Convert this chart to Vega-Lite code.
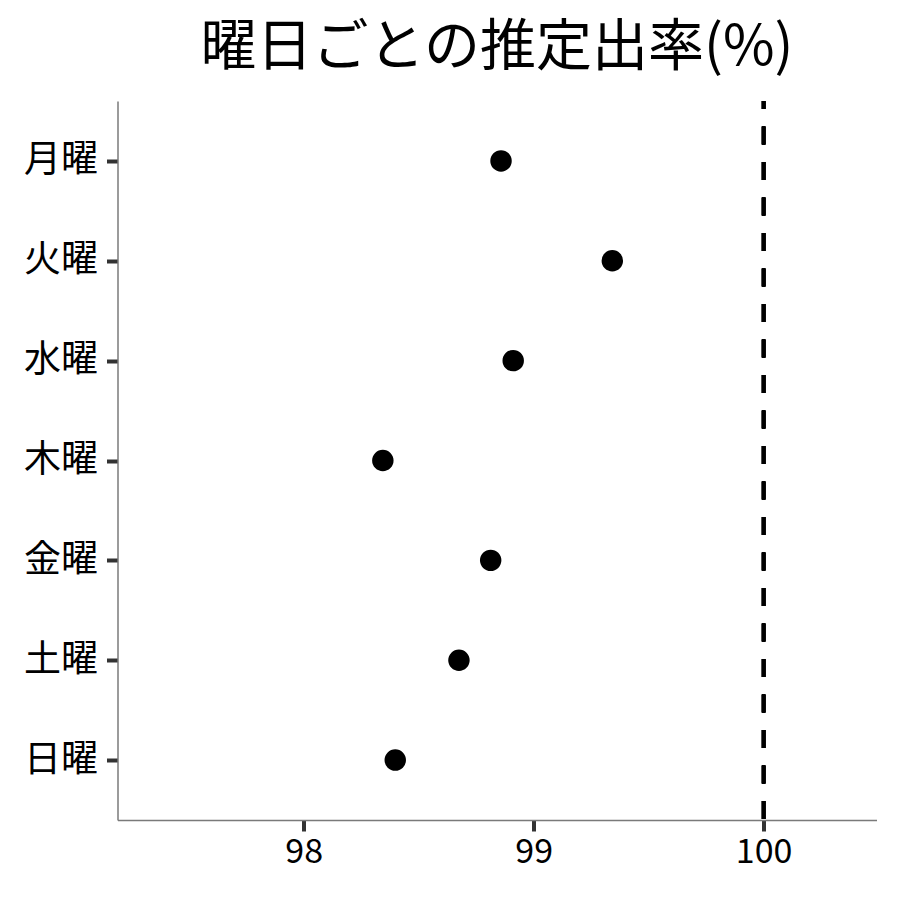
{
  "$schema": "https://vega.github.io/schema/vega-lite/v6.json",
  "autosize": {"type": "none"},
  "padding": {"left": 117.5, "top": 101, "right": 23.5, "bottom": 80},
  "width": 759,
  "height": 719,
  "title": {
    "text": "曜日ごとの推定出率(%)",
    "fontSize": 56,
    "font": "Noto Sans CJK JP",
    "fontWeight": "normal",
    "color": "black",
    "anchor": "middle",
    "offset": 22
  },
  "data": {
    "values": [
      {"day": "月曜", "rate": 98.858},
      {"day": "火曜", "rate": 99.342},
      {"day": "水曜", "rate": 98.911},
      {"day": "木曜", "rate": 98.344},
      {"day": "金曜", "rate": 98.813},
      {"day": "土曜", "rate": 98.675},
      {"day": "日曜", "rate": 98.398}
    ]
  },
  "layer": [
    {
      "mark": {"type": "rule", "color": "black", "strokeWidth": 3.5, "strokeDash": [18, 17.5], "strokeDashOffset": 10},
      "encoding": {
        "x": {"datum": 100, "type": "quantitative"}
      }
    },
    {
      "mark": {"type": "point", "filled": true, "color": "black", "opacity": 1, "size": 460},
      "encoding": {
        "x": {
          "field": "rate",
          "type": "quantitative",
          "scale": {"domain": [97.19, 100.491], "nice": false, "zero": false},
          "axis": {"values": [98, 99, 100], "format": "d", "title": null}
        },
        "y": {
          "field": "day",
          "type": "nominal",
          "sort": ["月曜", "火曜", "水曜", "木曜", "金曜", "土曜", "日曜"],
          "scale": {"type": "point", "padding": 0.6},
          "axis": {"title": null}
        }
      }
    }
  ],
  "config": {
    "view": {"stroke": null},
    "axis": {
      "grid": false,
      "domainColor": "#7a7a7a",
      "domainWidth": 1.5,
      "tickColor": "#333333",
      "tickWidth": 4,
      "tickSize": 11,
      "labelColor": "black",
      "labelFont": "Noto Sans CJK JP"
    },
    "axisX": {"labelFontSize": 34, "labelPadding": 4},
    "axisY": {"labelFontSize": 37, "labelPadding": 9}
  }
}
